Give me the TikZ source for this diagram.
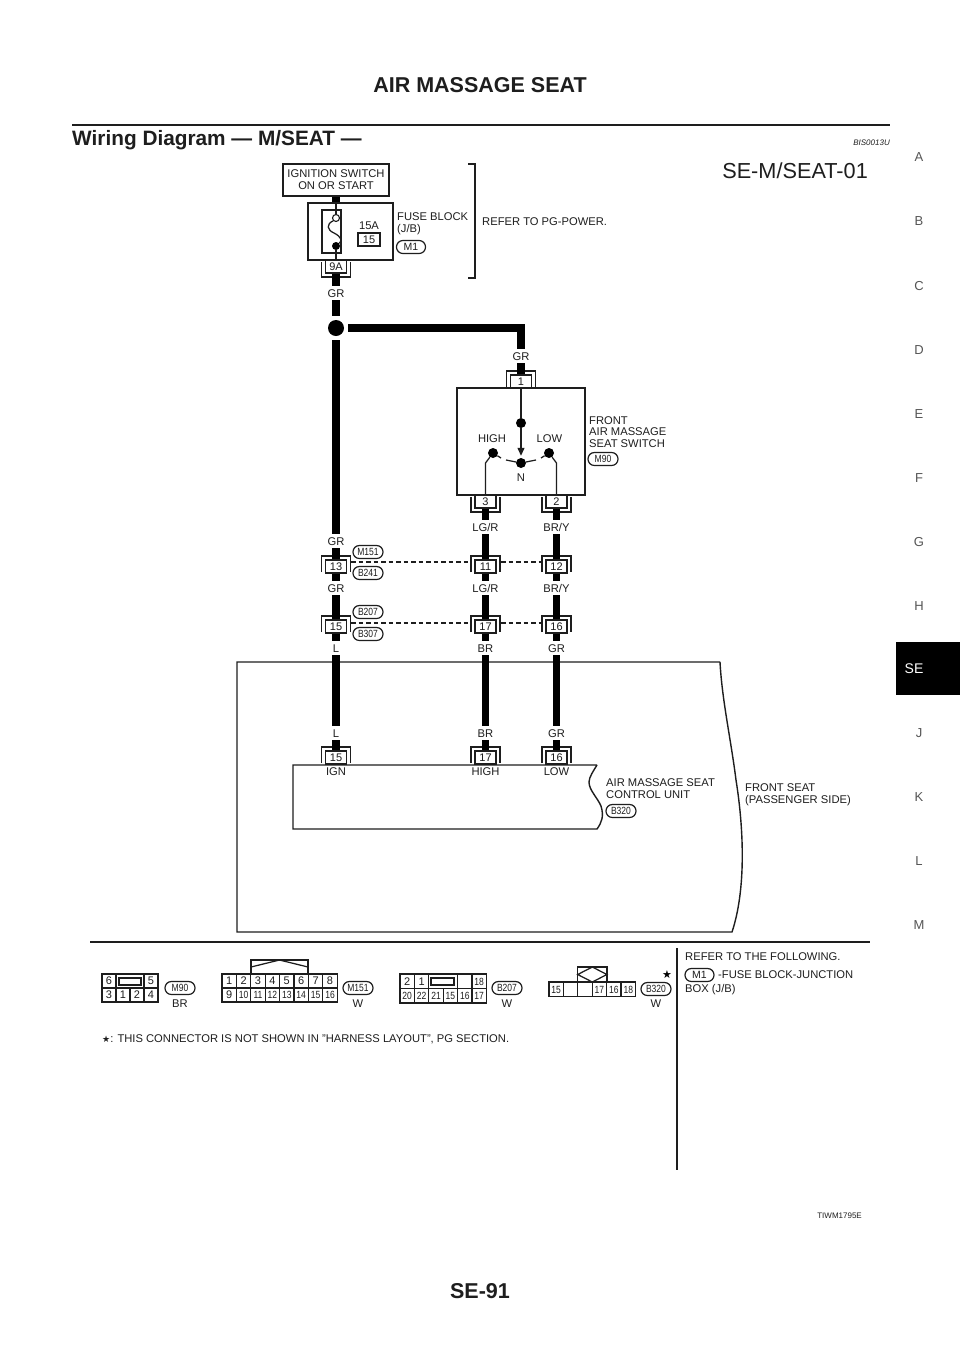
\documentclass[tikz,border=0pt]{standalone}
\usepackage{fontspec}
\setmainfont{Liberation Sans}
\newfontfamily\symfont{DejaVu Sans}
\newfontfamily\pillfont[FakeStretch=0.82]{Liberation Sans}
\usetikzlibrary{arrows.meta}
\newcounter{cellno}
\newcommand{\fs}[1]{\fontsize{#1}{11.8}\selectfont}
\newcommand{\nw}{\pillfont\fs{10.4}}
\tikzset{
  thinline/.style={draw=ink,line width=1.25pt},
  wire/.style={draw=black,line width=7.5pt},
  bracket/.style={draw=ink,line width=1.6pt},
  txt/.style={inner sep=0pt,text=ink,font=\fs{11.2}},
  tl/.style={txt,anchor=west,align=left},
  wlabel/.style={txt,minimum height=14pt,minimum width=10pt,text height=8pt,text depth=0pt},
  pin/.style={draw=ink,line width=1.25pt,fill=white,minimum width=21pt,minimum height=13pt,inner sep=0pt,text=ink,font=\fs{11},text height=8pt,text depth=0pt},
  pill/.style={draw=ink,line width=1.2pt,rounded corners=6.4pt,minimum width=30pt,minimum height=13pt,inner sep=0pt,text=ink,font=\nw,text height=7.4pt,text depth=0pt},
  side/.style={inner sep=0pt,text=sidegray,font=\fs{13}},
  cellbox/.style={draw=ink,line width=1.2pt,inner sep=0pt,text=ink,text height=7.8pt,text depth=0pt},
  dot/.style={circle,fill=black,inner sep=0pt,minimum size=#1},
  dashline/.style={draw=ink,line width=1.2pt,dash pattern=on 4.5pt off 3pt}
}
\definecolor{ink}{HTML}{1E1E1E}
\definecolor{sidegray}{HTML}{555555}
% name, x, top-of-bracket y, label
\newcommand{\topconn}[4]{%
  \node[pin] (#1) at (#2,#3+10.5) {#4};
  \draw[bracket] (#2-14.5,#3+16) -- (#2-14.5,#3) -- (#2+14.5,#3) -- (#2+14.5,#3+16);
}
% name, x, box top y, label
\newcommand{\botconn}[4]{%
  \node[pin] (#1) at (#2,#3+6.5) {#4};
  \draw[bracket] (#2-14.5,#3+2) -- (#2-14.5,#3+17) -- (#2+14.5,#3+17) -- (#2+14.5,#3+2);
}
% x0,y0,w,h,font,text
\newcommand{\cell}[6]{%
  \stepcounter{cellno}%
  \node[cellbox,minimum width=#3pt,minimum height=#4pt,font=#5] (cell\thecellno) at (#1+#3/2,#2+#4/2) {#6};
}
\newcommand{\bg}{\fs{11}}
\begin{document}
\begin{tikzpicture}[x=1pt,y=-1pt]
\useasboundingbox (0,0) rectangle (960,1358);
\fill[white] (0,0) rectangle (960,1358);

% page furniture
\node[txt,font=\bfseries\fs{21.5}] (title) at (480,85) {AIR MASSAGE SEAT};
\draw[draw=ink,line width=2.6pt] (72,125) -- (890,125);
\node[txt,anchor=west,font=\bfseries\fs{20.8}] (sect) at (72,140) {Wiring Diagram — M/SEAT —};
\node[txt,anchor=east,font=\itshape\fs{8}] (code) at (890,143) {BIS0013U};
\node[txt,anchor=east,font=\fs{21.7}] (sheet) at (868,171) {SE-M/SEAT-01};
\node[side] (sA) at (919,157) {A};
\node[side] (sB) at (919,221) {B};
\node[side] (sC) at (919,286) {C};
\node[side] (sD) at (919,350) {D};
\node[side] (sE) at (919,414) {E};
\node[side] (sF) at (919,478) {F};
\node[side] (sG) at (919,542) {G};
\node[side] (sH) at (919,606) {H};
\fill[black] (896,642) rectangle (960,695);
\node[side,text=white,font=\fs{14}] (sSE) at (914,669) {SE};
\node[side] (sJ) at (919,733) {J};
\node[side] (sK) at (919,797) {K};
\node[side] (sL) at (919,861) {L};
\node[side] (sM) at (919,925) {M};
\node[txt,font=\bfseries\fs{21.5}] (pageno) at (480,1291) {SE-91};
\node[txt,anchor=east,font=\fs{8}] (fig) at (862,1216) {TIWM1795E};

% seat outlines
\draw[thinline,line width=1.4pt] (720,662) -- (237,662) -- (237,932) -- (732,932)
  .. controls (746,890) and (744,830) .. (736,780) .. controls (731,740) and (722,700) .. (720,662);
\draw[thinline,line width=1.4pt] (597,765) -- (293,765) -- (293,829) -- (597,829)
  .. controls (602,822) and (604,816) .. (601,806) .. controls (597,797) and (589,790) .. (589,782)
  .. controls (589,777) and (594,770) .. (597,765);

% power source
\node[draw=ink,line width=1.4pt,fill=white,minimum width=106pt,minimum height=32pt,inner sep=0pt,align=center,text=ink,font=\fs{11.2}] (ign) at (336,180) {IGNITION SWITCH\\ON OR START};
\node[draw=ink,line width=1.4pt,minimum width=85pt,minimum height=57pt] (fuse) at (350.5,231.5) {};
\draw[wire] (ign.south) -- (ign.south |- fuse.north);
\draw[thinline] (322,210) rectangle (341,253);
\node[circle,draw=ink,line width=1.1pt,fill=white,inner sep=0pt,minimum size=7pt] (fusetop) at (336,218) {};
\node[dot=8pt] (fusebot) at (336,246) {};
\coordinate (fuseA) at (336,203);
\coordinate (fuseB) at (336,260);
\draw[thinline] (fuseA) -- (fusetop.north);
\draw[thinline] (fusebot) -- (fuseB);
\draw[thinline] (fusetop.south west) .. controls (326,224) and (327,230) .. (334,233) .. controls (342,237) and (342,241) .. (fusebot);
\node[txt] (amp) at (369,226) {15A};
\node[pin,minimum width=22pt] (fuseno) at (369,239.5) {15};
\node[tl] (fblock) at (397,224) {FUSE BLOCK\\(J/B)};
\node[pill,minimum width=29pt,font=\fs{10.5},text height=7.5pt] (pM1) at (411,247) {M1};
\draw[thinline] (468,164) -- (475,164) -- (475,278) -- (468,278);
\node[tl] (refer) at (482,222) {REFER TO PG-POWER.};

% connectors
\botconn{c9A}{336}{260}{9A}
\node[wlabel] (gr1) at (336,293) {GR};
\node[dot=16pt] (junc) at (336,328) {};
\node[wlabel] (gr2) at (521,356) {GR};
\topconn{c1}{521}{371}{1}
\node[draw=ink,line width=1.4pt,minimum width=128pt,minimum height=107pt] (sw) at (521,441.5) {};
\botconn{c3}{485.5}{495}{3}
\botconn{c2}{556.5}{495}{2}
\node[wlabel] (lg1) at (485.5,527) {LG/R};
\node[wlabel] (by1) at (556.5,527) {BR/Y};
\node[wlabel] (gr3) at (336,541) {GR};
\topconn{c13}{336}{556}{13}
\topconn{c11}{485.5}{556}{11}
\topconn{c12}{556.5}{556}{12}
\node[wlabel] (gr4) at (336,588) {GR};
\node[wlabel] (lg2) at (485.5,588) {LG/R};
\node[wlabel] (by2) at (556.5,588) {BR/Y};
\topconn{c15}{336}{616}{15}
\topconn{c17}{485.5}{616}{17}
\topconn{c16}{556.5}{616}{16}
\node[wlabel] (l1) at (336,648) {L};
\node[wlabel] (br1) at (485.5,648) {BR};
\node[wlabel] (gr5) at (556.5,648) {GR};
\node[wlabel] (l2) at (336,733) {L};
\node[wlabel] (br2) at (485.5,733) {BR};
\node[wlabel] (gr6) at (556.5,733) {GR};
\topconn{u15}{336}{747}{15}
\topconn{u17}{485.5}{747}{17}
\topconn{u16}{556.5}{747}{16}

% wires
\draw[wire] (c9A.south) -- (gr1.north);
\draw[wire] (gr1.south) -- (336,316);
\coordinate (jr) at (348,328);
\coordinate (corner) at (521,328);
\draw[wire] (336,340) -- (gr3.north);
\draw[wire,line join=miter] (jr) -- (corner) -- (gr2.north);
\draw[wire] (gr2.south) -- (c1.north);
\draw[wire] (c3.south) -- (lg1.north);
\draw[wire] (c2.south) -- (by1.north);
\draw[wire] (lg1.south) -- (c11.north);
\draw[wire] (by1.south) -- (c12.north);
\draw[wire] (gr3.south) -- (c13.north);
\draw[wire] (c13.south) -- (gr4.north);
\draw[wire] (c11.south) -- (lg2.north);
\draw[wire] (c12.south) -- (by2.north);
\draw[wire] (gr4.south) -- (c15.north);
\draw[wire] (lg2.south) -- (c17.north);
\draw[wire] (by2.south) -- (c16.north);
\draw[wire] (c15.south) -- (l1.north);
\draw[wire] (c17.south) -- (br1.north);
\draw[wire] (c16.south) -- (gr5.north);
\draw[wire] (l1.south) -- (l2.north);
\draw[wire] (br1.south) -- (br2.north);
\draw[wire] (gr5.south) -- (gr6.north);
\draw[wire] (l2.south) -- (u15.north);
\draw[wire] (br2.south) -- (u17.north);
\draw[wire] (gr6.south) -- (u16.north);

% switch interior
\node[dot=10pt] (swtop) at (521,423) {};
\node[dot=10pt] (swn) at (521,463) {};
\node[dot=10pt] (swh) at (493,453) {};
\node[dot=10pt] (swl) at (549,453) {};
\draw[thinline] (c1.south) -- (swtop);
\draw[thinline,-{Triangle[length=8pt,width=7pt]},shorten >=2pt] (swtop) -- (swn);
\node[txt] (thigh) at (492,438.5) {HIGH};
\node[txt] (tlow) at (549.5,438.5) {LOW};
\node[txt] (tn) at (521,477.5) {N};
\draw[thinline] (c3.north) -- (485.5,463) -- (swh);
\draw[thinline] (c2.north) -- (556.5,463) -- (swl);
\draw[thinline] (swh) -- (501,458);
\draw[thinline] (swl) -- (541,458);
\draw[thinline] (506,460) -- (swn);
\draw[thinline] (536,460) -- (swn);
\node[tl] (swname) at (589,432) {FRONT\\AIR MASSAGE\\SEAT SWITCH};
\node[pill] (pM90) at (603,459) {M90};

% harness labels and dashes
\node[pill] (pM151) at (368,552) {M151};
\node[pill] (pB241) at (368,573) {B241};
\node[pill] (pB207) at (368,612) {B207};
\node[pill] (pB307) at (368,634) {B307};
\coordinate (d13) at (351,562);
\coordinate (d11l) at (470,562);
\coordinate (d11r) at (501,562);
\coordinate (d12) at (541,562);
\coordinate (d15) at (351,623);
\coordinate (d17l) at (470,623);
\coordinate (d17r) at (501,623);
\coordinate (d16) at (541,623);
\draw[dashline] (d13) -- (d11l);
\draw[dashline] (d11r) -- (d12);
\draw[dashline] (d15) -- (d17l);
\draw[dashline] (d17r) -- (d16);

% control unit and seat labels
\node[txt] (tign) at (336,772) {IGN};
\node[txt] (thigh2) at (485.5,772) {HIGH};
\node[txt] (tlow2) at (556.5,772) {LOW};
\node[tl] (cuname) at (606,789) {AIR MASSAGE SEAT\\CONTROL UNIT};
\node[pill] (pB320) at (621,811) {B320};
\node[tl] (seatname) at (745,795) {FRONT SEAT\\(PASSENGER SIDE)};

% lower part
\draw[draw=ink,line width=1.8pt] (90,942) -- (870,942);
\draw[draw=ink,line width=1.3pt] (677,948) -- (677,1170);
\node[tl] (refer2) at (685,957) {REFER TO THE FOLLOWING.};
\node[pill,minimum width=29pt,font=\fs{10.5},text height=7.5pt] (pM1b) at (699.5,975) {M1};
\node[tl] (fj) at (718,975) {-FUSE BLOCK-JUNCTION};
\node[tl] (box) at (685,990) {BOX (J/B)};
\node[tl] (note) at (102,1039) {{\symfont\fs{9}★}: THIS CONNECTOR IS NOT SHOWN IN "HARNESS LAYOUT", PG SECTION.};

% M90 connector
\cell{102}{974}{14}{14}{\bg}{6}
\cell{116}{974}{28}{14}{\bg}{}
\cell{144}{974}{14}{14}{\bg}{5}
\cell{102}{988}{14}{14}{\bg}{3}
\cell{116}{988}{14}{14}{\bg}{1}
\cell{130}{988}{14}{14}{\bg}{2}
\cell{144}{988}{14}{14}{\bg}{4}
\draw[thinline] (119,978) rectangle (141,985);
\node[pill] (pM90b) at (180,988) {M90};
\node[txt] (cBR) at (180,1004) {BR};

% M151 connector
\draw[thinline] (251,974) -- (251,960) -- (308,960) -- (308,974);
\draw[thinline] (251,967) -- (279.5,960) -- (308,967);
\cell{222}{974}{14.4}{14}{\bg}{1}
\cell{236.4}{974}{14.4}{14}{\bg}{2}
\cell{250.8}{974}{14.4}{14}{\bg}{3}
\cell{265.2}{974}{14.4}{14}{\bg}{4}
\cell{279.6}{974}{14.4}{14}{\bg}{5}
\cell{294}{974}{14.4}{14}{\bg}{6}
\cell{308.4}{974}{14.4}{14}{\bg}{7}
\cell{322.8}{974}{14.4}{14}{\bg}{8}
\cell{222}{988}{14.4}{14}{\bg}{9}
\cell{236.4}{988}{14.4}{14}{\nw}{10}
\cell{250.8}{988}{14.4}{14}{\nw}{11}
\cell{265.2}{988}{14.4}{14}{\nw}{12}
\cell{279.6}{988}{14.4}{14}{\nw}{13}
\cell{294}{988}{14.4}{14}{\nw}{14}
\cell{308.4}{988}{14.4}{14}{\nw}{15}
\cell{322.8}{988}{14.4}{14}{\nw}{16}
\node[pill] (pM151b) at (358,988) {M151};
\node[txt] (cW1) at (358,1004) {W};

% B207 connector
\cell{400}{974}{14.4}{14.5}{\bg}{2}
\cell{414.4}{974}{14.4}{14.5}{\bg}{1}
\cell{428.8}{974}{28.8}{14.5}{\bg}{}
\cell{457.6}{974}{14.4}{14.5}{\bg}{}
\cell{472}{974}{14.4}{14.5}{\nw}{18}
\cell{400}{988.5}{14.4}{14.5}{\nw}{20}
\cell{414.4}{988.5}{14.4}{14.5}{\nw}{22}
\cell{428.8}{988.5}{14.4}{14.5}{\nw}{21}
\cell{443.2}{988.5}{14.4}{14.5}{\nw}{15}
\cell{457.6}{988.5}{14.4}{14.5}{\nw}{16}
\cell{472}{988.5}{14.4}{14.5}{\nw}{17}
\draw[thinline] (431,978) rectangle (454,985);
\node[pill] (pB207b) at (507,988) {B207};
\node[txt] (cW2) at (507,1004) {W};

% B320 connector
\draw[thinline] (577.7,982) -- (577.7,967) -- (606.9,967) -- (606.9,982);
\draw[thinline] (577.7,974.5) -- (592.3,967) -- (606.9,974.5) -- (592.3,982) -- cycle;
\cell{549}{982}{14.4}{14.5}{\nw}{15}
\cell{563.4}{982}{14.4}{14.5}{\nw}{}
\cell{577.8}{982}{14.4}{14.5}{\nw}{}
\cell{592.2}{982}{14.4}{14.5}{\nw}{17}
\cell{606.6}{982}{14.4}{14.5}{\nw}{16}
\cell{621}{982}{14.6}{14.5}{\nw}{18}
\node[pill] (pB320b) at (656,989) {B320};
\node[txt] (cW3) at (656,1004) {W};
\node[inner sep=0pt,text=black,font=\symfont\fs{11}] (star) at (667,975) {★};
\end{tikzpicture}
\end{document}
